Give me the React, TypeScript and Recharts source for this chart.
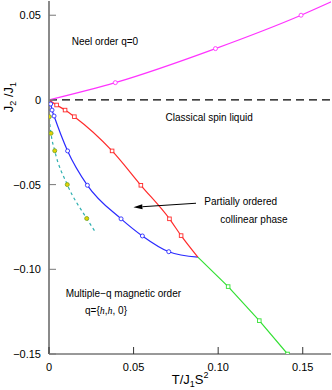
import React from "react";
import { ComposedChart, Line, XAxis, YAxis, ReferenceLine } from "recharts";

// axis ticks
const xTicks = [0, 0.05, 0.1, 0.15];
const yTicks = [-0.15, -0.1, -0.05, 0, 0.05];
const xMax = 0.1667;
const yMin = -0.15;
const yMax = 0.0584;

// Neel boundary (magenta)
const neelT = [0, 0.0392, 0.0984, 0.149, 0.167];
const neelJ = [0, 0.0102, 0.0303, 0.05, 0.058];
// partially ordered upper boundary (red)
const redT = [0, 0.0045, 0.0095, 0.015, 0.0373, 0.0543, 0.0712, 0.0781, 0.088];
const redJ = [0, -0.003, -0.006, -0.0099, -0.0301, -0.0504, -0.0702, -0.0801, -0.0928];
// partially ordered lower boundary (blue)
const blueT = [0, 0.001, 0.0018, 0.003, 0.011, 0.0227, 0.0426, 0.0552, 0.0708, 0.088];
const blueJ = [0, -0.0024, -0.006, -0.0095, -0.0301, -0.0504, -0.0702, -0.0803, -0.0896, -0.0928];
// multiple-q boundary (green)
const greenT = [0.088, 0.1059, 0.1243, 0.141];
const greenJ = [-0.0928, -0.1102, -0.1303, -0.15];
// dashed teal with yellow points
const tealT = [0, 0.0002, 0.0012, 0.0034, 0.0108, 0.0223, 0.0272];
const tealJ = [0, -0.0099, -0.0197, -0.03, -0.05, -0.07, -0.0777];

// arrow: tail -> head
const arrowT = [0.0869, 0.0499];
const arrowJ = [-0.061, -0.0634];

const pts = (t: number[], j: number[]) => t.map((v, i) => ({ t: v, j: j[i] }));

const font = "'Liberation Sans', Arial, Helvetica, sans-serif";

const fmtX = (v: number) => (v === 0 ? "0" : v.toFixed(2));
const fmtY = (v: number) =>
  v === 0 ? "0" : (v < 0 ? "\u2212" : "") + Math.abs(v).toFixed(2);

const BottomTick = (p: any) => (
  <g>
    <line x1={p.x} x2={p.x} y1={p.y} y2={p.y - 7} stroke="#333" />
    <text x={p.x} y={p.y + 16.5} textAnchor="middle" fontSize={11} fontFamily={font} fill="#000">
      {fmtX(p.payload.value)}
    </text>
  </g>
);
const TopTick = (p: any) => (
  <line x1={p.x} x2={p.x} y1={p.y} y2={p.y + 7} stroke="#333" />
);
const LeftTick = (p: any) => (
  <g>
    <line x1={p.x} x2={p.x + 7} y1={p.y} y2={p.y} stroke="#777" />
    <text x={p.x - 8} y={p.y + 4} textAnchor="end" fontSize={11} fontFamily={font} fill="#000">
      {fmtY(p.payload.value)}
    </text>
  </g>
);
const RightTick = (p: any) => (
  <line x1={p.x} x2={p.x - 7} y1={p.y} y2={p.y} stroke="#555" />
);

const markers = (color: string, shape: "sq" | "ci", skip: number[], fill = "#fff") =>
  (p: any) => {
    if (skip.includes(p.index)) return <g key={p.index} />;
    if (shape === "sq")
      return (
        <rect key={p.index} x={p.cx - 1.8} y={p.cy - 1.8} width={3.6} height={3.6}
          fill={fill} stroke={color} strokeWidth={0.9} />
      );
    return <circle key={p.index} cx={p.cx} cy={p.cy} r={2} fill={fill} stroke={color} strokeWidth={0.9} />;
  };

const ArrowShape = (p: any) => {
  const { x1, y1, x2, y2 } = p;
  const dx = x2 - x1;
  const dy = y2 - y1;
  const len = Math.sqrt(dx * dx + dy * dy) || 1;
  const ux = dx / len;
  const uy = dy / len;
  const hl = 9;
  const hw = 2.6;
  const bx = x2 - ux * hl;
  const by = y2 - uy * hl;
  return (
    <g>
      <line x1={x1} y1={y1} x2={bx} y2={by} stroke="#000" strokeWidth={1} />
      <polygon
        points={`${x2},${y2} ${bx - uy * hw},${by + ux * hw} ${bx + uy * hw},${by - ux * hw}`}
        fill="#000"
      />
    </g>
  );
};

const labelStyle = { fontFamily: font, fontSize: 10, fill: "#000" } as const;

export default function App() {
  return (
    <div style={{ position: "absolute", left: 0, top: 0, width: 332, height: 390, background: "#fff" }}>
      <ComposedChart width={332} height={390} margin={{ top: 1, right: 1, left: 0, bottom: 0 }}>
        <XAxis dataKey="t" type="number" domain={[0, xMax]} ticks={xTicks} allowDataOverflow
          height={36} axisLine={{ stroke: "#333" }} tickLine={false} tickSize={0} tickMargin={0}
          tick={BottomTick} interval={0} />
        <XAxis xAxisId="top" orientation="top" dataKey="t" type="number" domain={[0, xMax]}
          ticks={xTicks} allowDataOverflow height={0} axisLine={{ stroke: "#333" }} tickLine={false}
          tickSize={0} tickMargin={0} tick={TopTick} interval={0} />
        <YAxis type="number" domain={[yMin, yMax]} ticks={yTicks} allowDataOverflow width={49}
          axisLine={{ stroke: "#8a8a8a", strokeWidth: 2 }} tickLine={false} tickSize={0}
          tickMargin={0} tick={LeftTick} interval={0} />
        <YAxis yAxisId="right" orientation="right" type="number" domain={[yMin, yMax]}
          ticks={yTicks} allowDataOverflow width={0} axisLine={{ stroke: "#666" }} tickLine={false}
          tickSize={0} tickMargin={0} tick={RightTick} interval={0} />

        <ReferenceLine y={0} stroke="#000" strokeWidth={1.2} strokeDasharray="8 5" />

        <Line data={pts(neelT, neelJ)} dataKey="j" type="monotoneX" stroke="#ff33ff" strokeWidth={1.2}
          dot={markers("#ff33ff", "ci", [0, 4])} isAnimationActive={false} />
        <Line data={pts(tealT, tealJ)} dataKey="j" type="monotoneX" stroke="#2fb0b0" strokeWidth={1.2}
          strokeDasharray="3 3" dot={markers("#7aa82a", "ci", [0, 6], "#e6d400")} isAnimationActive={false} />
        <Line data={pts(blueT, blueJ)} dataKey="j" type="monotoneX" stroke="#2a2aff" strokeWidth={1.2}
          dot={markers("#2a2aff", "ci", [0, 9])} isAnimationActive={false} />
        <Line data={pts(redT, redJ)} dataKey="j" type="monotoneX" stroke="#ff2a2a" strokeWidth={1.2}
          dot={markers("#ff2a2a", "sq", [0, 8])} isAnimationActive={false} />
        <Line data={pts(greenT, greenJ)} dataKey="j" type="linear" stroke="#33e033" strokeWidth={1.2}
          dot={markers("#33e033", "sq", [0])} isAnimationActive={false} />

        <ReferenceLine
          segment={[{ x: arrowT[0], y: arrowJ[0] }, { x: arrowT[1], y: arrowJ[1] }]}
          shape={ArrowShape}
        />
      </ComposedChart>

      <svg width={332} height={390} style={{ position: "absolute", left: 0, top: 0, pointerEvents: "none" }}>
        <text x={71.7} y={44.5} {...labelStyle}>Neel order q=0</text>
        <text x={165.5} y={120.5} {...labelStyle}>Classical spin liquid</text>
        <text x={204.3} y={205} {...labelStyle}>Partially ordered</text>
        <text x={220.3} y={222.5} {...labelStyle}>collinear phase</text>
        <text x={65.7} y={296.5} {...labelStyle}>Multiple{"\u2212"}q magnetic order</text>
        <text x={106} y={314} textAnchor="middle" {...labelStyle}>
          q={"{"}
          <tspan fontFamily="'Liberation Serif', serif" fontStyle="italic">h</tspan>,
          <tspan fontFamily="'Liberation Serif', serif" fontStyle="italic">h</tspan>, 0{"}"}
        </text>

        <text transform="translate(12.5,97) rotate(-90)" textAnchor="middle" fontFamily={font} fontSize={13} fill="#000">
          J<tspan fontSize={9} dy={3}>2</tspan>
          <tspan dy={-3}> /J</tspan>
          <tspan fontSize={9} dy={3}>1</tspan>
        </text>
        <text x={171.7} y={384} fontFamily={font} fontSize={13} fill="#000">
          T/J<tspan fontSize={9} dy={3}>1</tspan>
          <tspan dy={-3}>S</tspan>
          <tspan fontSize={9} dy={-6}>2</tspan>
        </text>
      </svg>
    </div>
  );
}
